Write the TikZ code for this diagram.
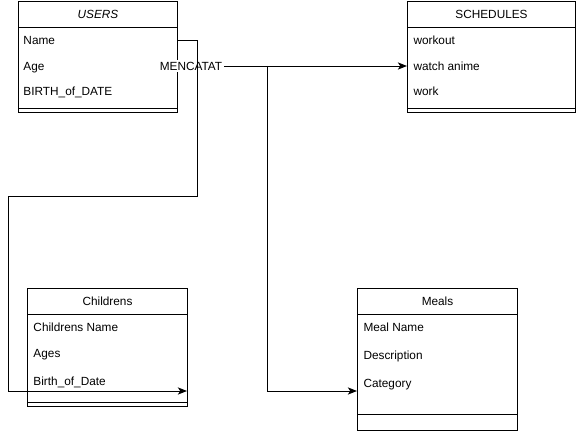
\documentclass[tikz,border=0pt]{standalone}
\usepackage{fontspec}
\setmainfont{Liberation Sans}
\usetikzlibrary{arrows.meta}
\tikzstyle{tablehead} = [rectangle, draw, anchor=north west, inner sep=0pt, minimum width=4cm, minimum height=0.65cm, text centered]
\tikzstyle{tablebody} = [rectangle, draw, anchor=north west, inner sep=0pt, minimum width=4cm]
\tikzstyle{field} = [anchor=base west, inner sep=0pt]
\tikzstyle{arrow} = [-{Stealth[length=2.3mm, width=1.8mm, inset=0.6mm]}]

\begin{document}
\begin{tikzpicture}[x=0.025cm, y=-0.025cm, line width=0.7pt, font=\fontsize{8.4pt}{10pt}\selectfont]
            \useasboundingbox (0,0) rectangle (576,431);

            % tables
            \node [tablehead, minimum width=3.975cm] at (18,1) (users) {\itshape USERS};
            \node [tablebody, minimum width=3.975cm, minimum height=2.125cm] at (18,27) (users-body) {};
            \node [field] at (23,44.5) (users-name) {Name};
            \node [field] at (23,70.5) (users-age) {Age};
            \node [field] at (23,95.5) (users-birth) {BIRTH\_of\_DATE};

            \node [tablehead, minimum width=4.2cm] at (407,1) (schedules) {SCHEDULES};
            \node [tablebody, minimum width=4.2cm, minimum height=2.125cm] at (407,27) (schedules-body) {};
            \node [field] at (413,44.5) (schedules-workout) {workout};
            \node [field] at (413,70.5) (schedules-anime) {watch anime};
            \node [field] at (413,95.5) (schedules-work) {work};

            \node [tablehead] at (27,288) (childrens) {Childrens};
            \node [tablebody, minimum height=2.3cm] at (27,314) (childrens-body) {};
            \node [field] at (33,331.5) (childrens-name) {Childrens Name};
            \node [field] at (33,357.5) (childrens-ages) {Ages};
            \node [field] at (33,385.5) (childrens-birth) {Birth\_of\_Date};

            \node [tablehead] at (357,288) (meals) {Meals};
            \node [tablebody, minimum height=2.9cm] at (357,314) (meals-body) {};
            \node [field] at (363,331.5) (meals-name) {Meal Name};
            \node [field] at (363,359.5) (meals-desc) {Description};
            \node [field] at (363,387.5) (meals-category) {Category};

            \foreach \t in {users, schedules, childrens}
                \draw ([yshift=0.125cm]\t-body.south west) -- ([yshift=0.125cm]\t-body.south east);
            \draw ([yshift=0.425cm]meals-body.south west) -- ([yshift=0.425cm]meals-body.south east);

            % relations
            \coordinate (childrens-in) at (187,391);
            \coordinate (fork) at (267,66);
            \draw [arrow] (users-body.east |- 0,66) -- node[pos=0.0565, fill=white, inner sep=1pt] (mencatat) {MENCATAT} (schedules-body.west |- 0,66);
            \draw [arrow] (fork) |- (meals-body.west |- childrens-in);
            \draw [arrow] (users-body.east |- 0,40) -| (197,196) -| (8,391) -- (childrens-in);
\end{tikzpicture}
\end{document}
